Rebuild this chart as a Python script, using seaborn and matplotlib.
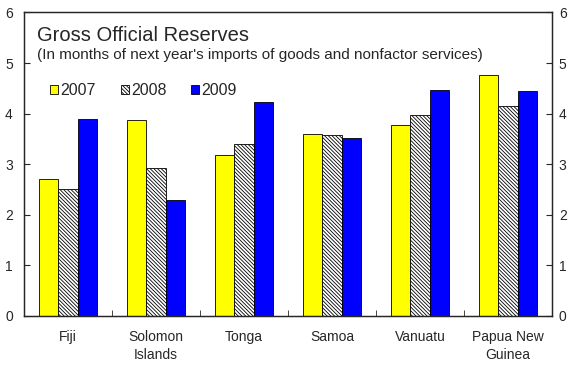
import matplotlib
matplotlib.use("Agg")
import matplotlib.pyplot as plt
from matplotlib.patches import Patch
import numpy as np
import pandas as pd
import seaborn as sns

countries = ["Fiji", "Solomon\nIslands", "Tonga", "Samoa", "Vanuatu", "Papua New\nGuinea"]
years = ["2007", "2008", "2009"]
v2007 = [2.70, 3.87, 3.18, 3.60, 3.77, 4.77]
v2008 = [2.50, 2.93, 3.40, 3.58, 3.97, 4.15]
v2009 = [3.90, 2.30, 4.22, 3.52, 4.47, 4.45]

df = pd.DataFrame({
    "country": countries * 3,
    "year": [y for y in years for _ in countries],
    "value": v2007 + v2008 + v2009,
})

sns.set_style("ticks")
plt.rcParams["font.family"] = ["Liberation Sans", "DejaVu Sans"]
plt.rcParams["hatch.linewidth"] = 0.6

fig = plt.figure(figsize=(5.69, 3.66), dpi=100)
ax = fig.add_axes([0.042, 0.137, 0.928, 0.829])

pal = {"2007": "#ffff00", "2008": "#ffffff", "2009": "#0000ff"}
hatches = {"2007": "", "2008": "\\\\\\\\\\\\\\\\\\", "2009": ""}
sns.barplot(data=df, x="country", y="value", hue="year", palette=pal,
            order=countries, hue_order=years, width=0.66,
            edgecolor="black", linewidth=0.6, saturation=1, ax=ax, legend=False)

for bar in ax.containers[1]:
    bar.set_hatch(hatches["2008"])

ax.set_ylim(0, 6)
ax.set_xlim(-0.5, 5.5)
ax.set_yticks(range(7))
ax.set_xlabel("")
ax.set_ylabel("")
for s in ax.spines.values():
    s.set_visible(True)
    s.set_linewidth(0.9)
ax.tick_params(axis="y", direction="in", left=True, right=False,
               labelleft=True, labelright=False, length=4, labelsize=10, pad=8)
ax.tick_params(axis="x", which="major", length=0, labelsize=10, pad=10)
for lab in ax.get_xticklabels():
    lab.set_linespacing(1.4)
ax.set_xticks(np.arange(0.5, 5.5, 1), minor=True)
ax.tick_params(axis="x", which="minor", direction="in", length=4)

# right-hand axis labels, a little closer so they stay inside the picture
ax2 = ax.twinx()
ax2.set_ylim(0, 6)
ax2.set_yticks(range(7))
ax2.tick_params(axis="y", direction="in", length=4, labelsize=10, pad=5)
for s in ax2.spines.values():
    s.set_linewidth(0.9)

fig.text(37 / 569, 0.9295, "Gross Official Reserves", fontsize=14.5, va="top")
fig.text(37 / 569, 0.868, "(In months of next year's imports of goods and nonfactor services)",
         fontsize=11, va="top")

handles = [Patch(facecolor=pal[y], edgecolor="black", linewidth=0.6, hatch=hatches[y])
           for y in years]
fig.legend(handles, years, loc="center left", bbox_to_anchor=(50 / 569, 0.753),
           ncol=3, frameon=False, fontsize=11.5, handlelength=0.5, handleheight=0.5,
           handletextpad=0.15, columnspacing=1.55, borderaxespad=0, borderpad=0)

fig.savefig("out.png", dpi=100)
